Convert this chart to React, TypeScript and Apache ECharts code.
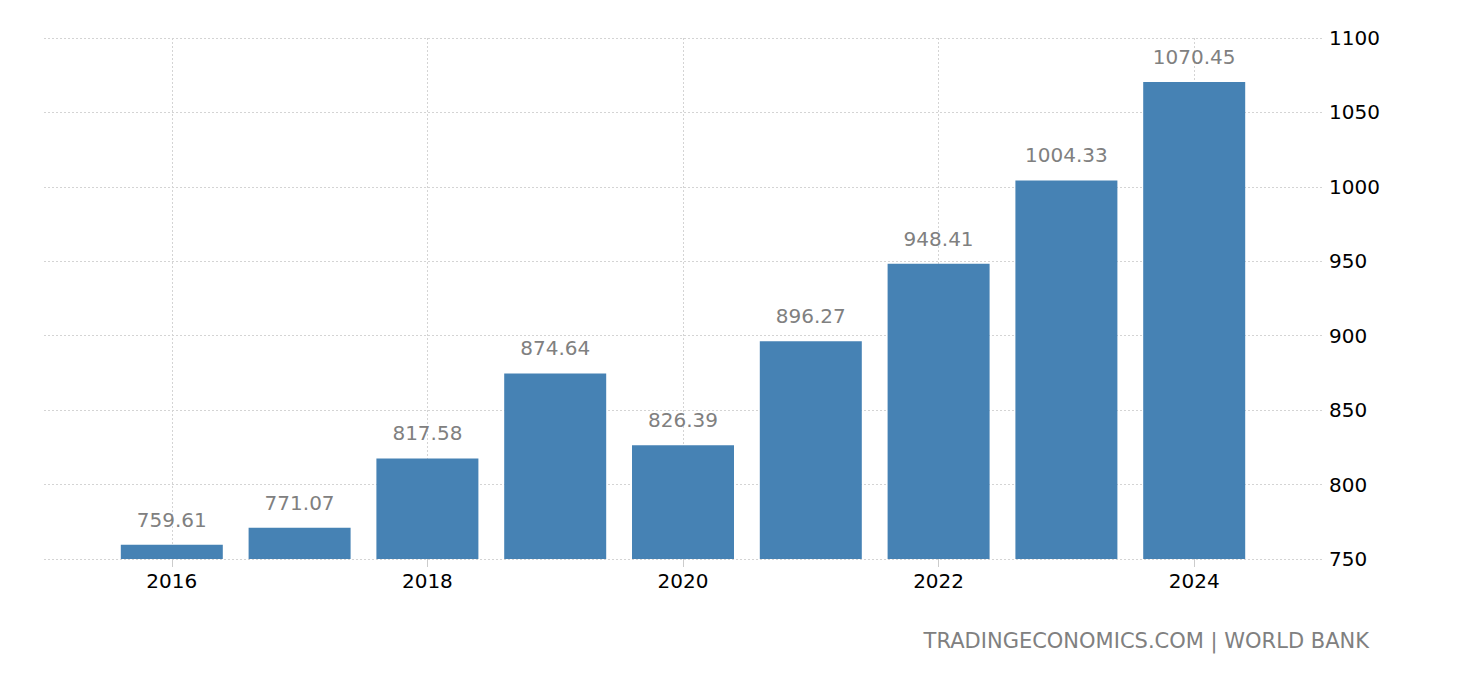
import React, { useEffect, useRef } from "react";
import * as echarts from "echarts";

const years: number[] = [2016, 2017, 2018, 2019, 2020, 2021, 2022, 2023, 2024];
const values: number[] = [759.61, 771.07, 817.58, 874.64, 826.39, 896.27, 948.41, 1004.33, 1070.45];
const yTicks = { min: 750, max: 1100, interval: 50 };
const sourceText = "TRADINGECONOMICS.COM | WORLD BANK";

export default function App() {
  const ref = useRef<HTMLDivElement>(null);
  useEffect(() => {
    if (!ref.current) return;
    const chart = echarts.init(ref.current, null, { renderer: "svg" });
    // axis spans one year beyond the data on each side
    const cats = [String(years[0] - 1), ...years.map(String), String(years[years.length - 1] + 1)];
    const data = [null, ...values, null];
    const even = (_i: number, v: string) => Number(v) % 2 === 0;
    const font = "'DejaVu Sans', Verdana, sans-serif";
    chart.setOption({
      animation: false,
      grid: { left: 44, right: 138, top: 38, bottom: 121, containLabel: false },
      xAxis: {
        type: "category",
        data: cats,
        boundaryGap: false,
        axisLine: { show: false },
        axisTick: { show: true, interval: even, length: 8, lineStyle: { color: "#cccccc", width: 1 } },
        axisLabel: { interval: even, color: "#000", fontSize: 20, fontFamily: font, margin: 12 },
        splitLine: { show: true, interval: even, lineStyle: { color: "#d4d4d4", type: [2, 2], width: 1 } },
      },
      yAxis: {
        type: "value",
        position: "right",
        min: yTicks.min,
        max: yTicks.max,
        interval: yTicks.interval,
        axisLine: { show: false },
        axisTick: { show: false },
        axisLabel: {
          color: "#000",
          fontSize: 20,
          fontFamily: font,
          margin: 7,
          formatter: (v: number) => String(v),
        },
        splitLine: { show: true, lineStyle: { color: "#d4d4d4", type: [2, 2], width: 1 } },
      },
      series: [
        {
          type: "bar",
          data,
          barWidth: 102,
          itemStyle: { color: "#4682B4" },
          label: {
            show: true,
            position: "top",
            distance: 15,
            color: "#808080",
            fontSize: 20,
            fontFamily: font,
            formatter: (p: any) => Number(p.value).toFixed(2),
          },
        },
      ],
      graphic: [
        {
          type: "text",
          right: 91,
          top: 630,
          style: { text: sourceText, fill: "#808080", fontSize: 21, fontFamily: font },
        },
      ],
    });
    return () => chart.dispose();
  }, []);
  return (
    <div
      ref={ref}
      style={{ position: "absolute", left: 0, top: 0, width: 1460, height: 680, background: "#fff" }}
    />
  );
}
